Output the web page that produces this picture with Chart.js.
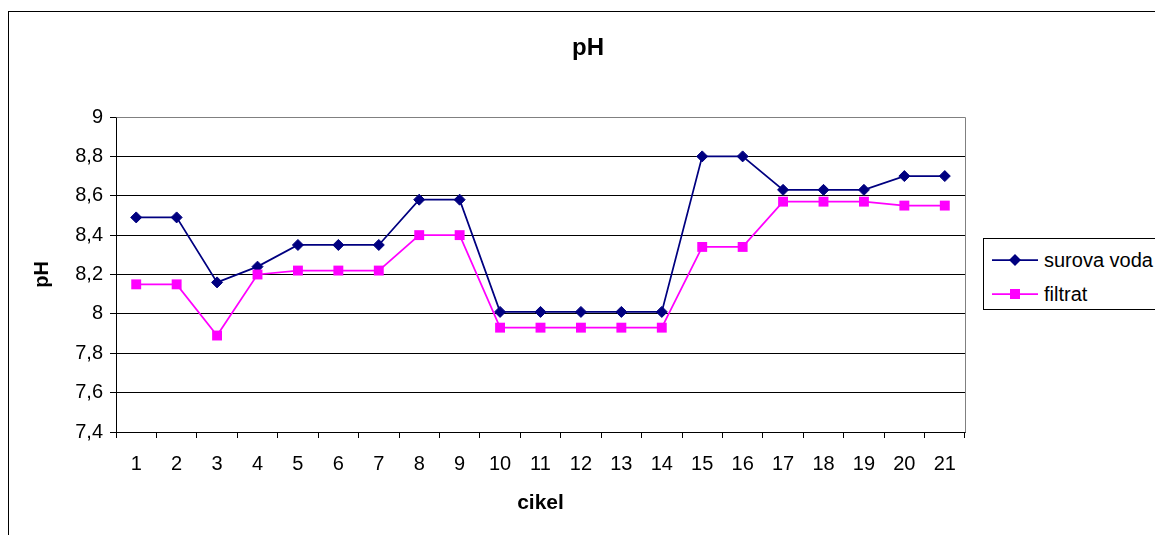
<!DOCTYPE html>
<html>
<head>
<meta charset="utf-8">
<script src="https://cdn.jsdelivr.net/npm/chart.js@4.4.1/dist/chart.umd.min.js"></script>
<style>
  html, body { margin: 0; padding: 0; background: #fff; overflow: hidden; }
  #wrap { position: relative; width: 1155px; height: 535px; overflow: hidden; }
  #frame { position: absolute; left: 8px; top: 11px; width: 1300px; height: 700px; border: 1px solid #000; box-sizing: border-box; }
  canvas { position: absolute; left: 0; top: 0; }
  #title { position: absolute; left: 488px; top: 33px; width: 200px; height: 28px; line-height: 28px; text-align: center;
           font-family: "Liberation Sans", Arial, sans-serif; font-size: 24px; font-weight: bold; color: #000; }
  #legend { position: absolute; left: 983px; top: 238px; width: 260px; height: 72px; border: 1px solid #000; box-sizing: border-box; background: #fff;
            font-family: "Liberation Sans", Arial, sans-serif; font-size: 20px; color: #000; }
  .item { position: absolute; left: 8px; height: 24px; line-height: 24px; white-space: nowrap; }
  .item svg { position: absolute; left: 0; top: 0; }
  .item span { position: absolute; left: 52px; top: 0; }
</style>
</head>
<body>
<div id="wrap">
  <div id="frame"></div>
  <canvas id="c" width="1155" height="535"></canvas>
  <div id="title"></div>
  <div id="legend"></div>
</div>
<script>
// ---- data ----
const categories = ['1','2','3','4','5','6','7','8','9','10','11','12','13','14','15','16','17','18','19','20','21'];
const surovaVoda = [8.49, 8.49, 8.16, 8.24, 8.35, 8.35, 8.35, 8.58, 8.58, 8.01, 8.01, 8.01, 8.01, 8.01, 8.80, 8.80, 8.63, 8.63, 8.63, 8.70, 8.70];
const filtrat    = [8.15, 8.15, 7.89, 8.20, 8.22, 8.22, 8.22, 8.40, 8.40, 7.93, 7.93, 7.93, 7.93, 7.93, 8.34, 8.34, 8.57, 8.57, 8.57, 8.55, 8.55];
const seriesNames = ['surova voda', 'filtrat'];
const yMin = 7.4, yMax = 9, yStep = 0.2;
const chartTitle = 'pH';
const xTitle = 'cikel';
const yTitle = 'pH';

const FONT = '"Liberation Sans", Arial, sans-serif';
const NAVY = '#000080', MAGENTA = '#FF00FF';

document.getElementById('title').textContent = chartTitle;

const frameBorder = {
  id: 'frameBorder',
  afterDatasetsDraw(chart) {
    const a = chart.chartArea, ctx = chart.ctx;
    ctx.save();
    ctx.strokeStyle = '#808080';
    ctx.lineWidth = 1;
    ctx.beginPath();
    ctx.moveTo(Math.round(a.left) + 0.5, Math.round(a.top) + 0.5);
    ctx.lineTo(Math.round(a.right) + 0.5, Math.round(a.top) + 0.5);
    ctx.lineTo(Math.round(a.right) + 0.5, Math.round(a.bottom) + 0.5);
    ctx.stroke();
    ctx.restore();
  }
};

new Chart(document.getElementById('c'), {
  type: 'line',
  data: {
    labels: categories,
    datasets: [
      { label: seriesNames[0], data: surovaVoda, borderColor: NAVY, backgroundColor: NAVY,
        borderWidth: 1.75, pointStyle: 'rectRot', pointRadius: 5.5, pointBorderWidth: 1,
        pointBackgroundColor: NAVY, pointBorderColor: NAVY, tension: 0, order: 1 },
      { label: seriesNames[1], data: filtrat, borderColor: MAGENTA, backgroundColor: MAGENTA,
        borderWidth: 1.75, pointStyle: 'rect', pointRadius: 7, pointBorderWidth: 0,
        pointBackgroundColor: MAGENTA, pointBorderColor: MAGENTA, tension: 0, order: 0 }
    ]
  },
  options: {
    responsive: false,
    animation: false,
    events: [],
    layout: { padding: { left: 0, top: 117, right: 190, bottom: 0 } },
    plugins: {
      legend: { display: false },
      tooltip: { enabled: false },
      title: { display: false }
    },
    scales: {
      x: {
        offset: true,
        grid: { offset: true, drawOnChartArea: false, color: '#000', tickLength: 6, tickColor: '#000' },
        border: { color: '#000', width: 1 },
        ticks: { color: '#000', font: { family: FONT, size: 20 }, padding: 14, maxRotation: 0, autoSkip: false },
        title: { display: true, text: xTitle, color: '#000', font: { family: FONT, size: 21, weight: 'bold' },
                 padding: { top: 0, bottom: 19 } },
        afterFit(s) { s.height = 103; }
      },
      y: {
        min: yMin, max: yMax,
        grid: { color: c => (c.tick && Math.abs(c.tick.value - yMax) < 1e-9) ? '#808080' : '#000',
                tickColor: '#000', tickLength: 6, lineWidth: 1 },
        border: { color: '#000', width: 1 },
        ticks: { stepSize: yStep, color: '#000', font: { family: FONT, size: 20 }, padding: 7,
                 callback: v => String(Number(v.toFixed(1))).replace('.', ',') },
        title: { display: true, text: yTitle, color: '#000', font: { family: FONT, size: 20, weight: 'bold' },
                 padding: { top: 30, bottom: 0 } },
        afterFit(s) { s.width = 116; }
      }
    }
  },
  plugins: [frameBorder]
});

// HTML legend (text kept as real text)
const legend = document.getElementById('legend');
const styles = [
  { color: NAVY, marker: '<polygon points="23,6 29,12 23,18 17,12" fill="' + NAVY + '"/>' },
  { color: MAGENTA, marker: '<rect x="18" y="7" width="10" height="10" fill="' + MAGENTA + '"/>' }
];
const tops = [9, 43];
seriesNames.forEach((name, i) => {
  const d = document.createElement('div');
  d.className = 'item';
  d.style.top = tops[i] + 'px';
  d.innerHTML = '<svg width="46" height="24" viewBox="0 0 46 24"><line x1="0" y1="12" x2="46" y2="12" stroke="' +
    styles[i].color + '" stroke-width="1.75"/>' + styles[i].marker + '</svg><span>' + name + '</span>';
  legend.appendChild(d);
});
</script>
</body>
</html>
